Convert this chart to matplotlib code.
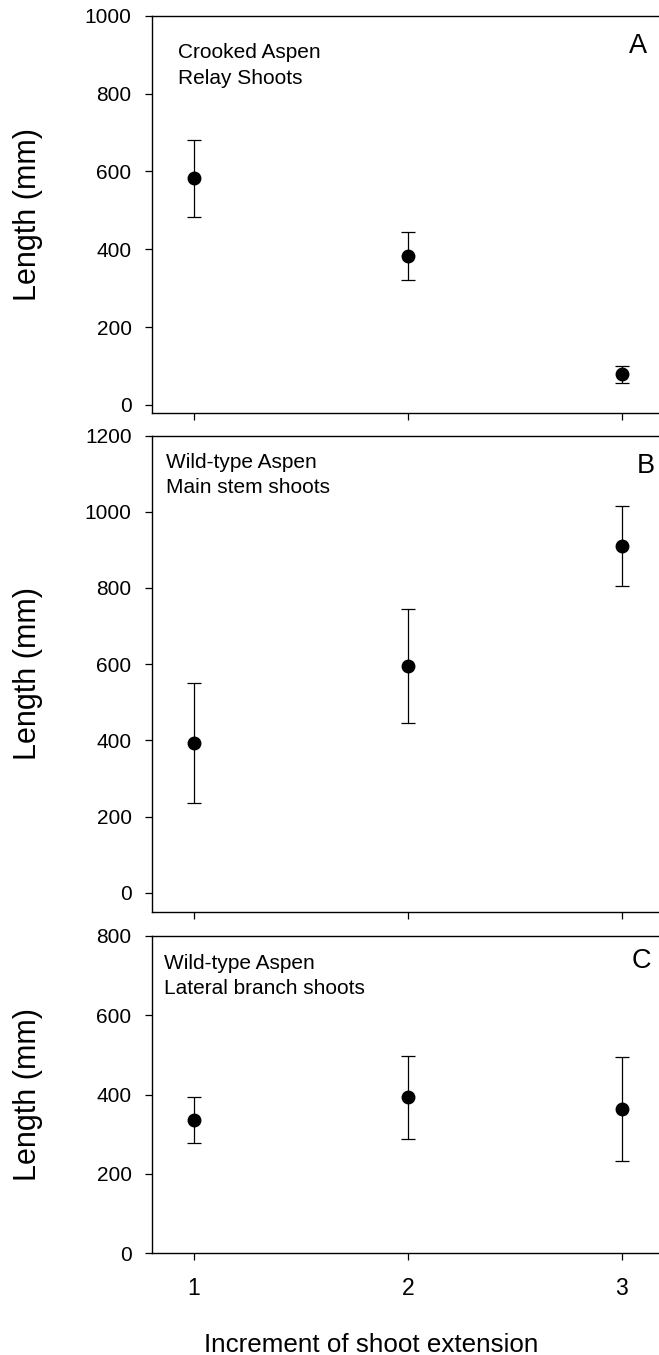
import matplotlib
matplotlib.use("Agg")
import matplotlib.pyplot as plt

plt.rcParams['font.family'] = ['Liberation Sans', 'DejaVu Sans']

W, H = 659, 1355

increments = [1, 2, 3]
xtick_labels = ["1", "2", "3"]

# panel A: crooked aspen relay shoots
relay_mean = [582, 382, 79]
relay_err = [98, 61, 22]
# panel B: wild-type main stem shoots
main_mean = [394, 595, 909]
main_err = [158, 150, 105]
# panel C: wild-type lateral branch shoots
lateral_mean = [336, 393, 363]
lateral_err = [58, 105, 131]

panels = [
    # (mean, err, ylim, yticks, text lines, letter, layout in px)
    (relay_mean, relay_err, (-20, 1000), [0, 200, 400, 600, 800, 1000],
     ["Crooked Aspen", "Relay Shoots"], "A",
     dict(top=15.7, bottom=412.7, tx=178.3, tb=(58.3, 84.3), lx=629, lb=53.3)),
    (main_mean, main_err, (-50, 1200), [0, 200, 400, 600, 800, 1000, 1200],
     ["Wild-type Aspen", "Main stem shoots"], "B",
     dict(top=435.5, bottom=912.0, tx=166, tb=(468.3, 493.3), lx=636.5, lb=473.3)),
    (lateral_mean, lateral_err, (0, 800), [0, 200, 400, 600, 800],
     ["Wild-type Aspen", "Lateral branch shoots"], "C",
     dict(top=935.7, bottom=1253.3, tx=164.2, tb=(969.3, 994.3), lx=631.5, lb=967.5)),
]

fig = plt.figure(figsize=(W / 100, H / 100), dpi=100)

left_px, right_px = 151.7, 663.8

for mean, err, ylim, yticks, lines, letter, lay in panels:
    ax = fig.add_axes([left_px / W, 1 - lay["bottom"] / H,
                       (right_px - left_px) / W, (lay["bottom"] - lay["top"]) / H])
    ax.errorbar(increments, mean, yerr=err, fmt="o", color="black",
                markersize=9, capsize=5, elinewidth=0.9, capthick=0.9)
    ax.set_xlim(0.803, 3.197)
    ax.set_ylim(*ylim)
    ax.set_yticks(yticks)
    ax.set_xticks(increments)
    ax.spines["right"].set_visible(False)
    for s in ("left", "bottom", "top"):
        ax.spines[s].set_linewidth(1.0)
    ax.tick_params(axis="y", direction="out", length=5, width=0.9, pad=9.5, labelsize=15)
    ax.tick_params(axis="x", direction="out", length=5, width=0.9, pad=12, labelsize=16.5)
    if letter == "C":
        ax.set_xticklabels(xtick_labels)
    else:
        ax.set_xticklabels([])
    ax.set_ylabel("Length (mm)", fontsize=22)
    ax.yaxis.set_label_coords((43 - left_px) / (right_px - left_px), 0.5)

    for line, base in zip(lines, lay["tb"]):
        fig.text(lay["tx"] / W, 1 - base / H, line, fontsize=15,
                 ha="left", va="baseline")
    fig.text(lay["lx"] / W, 1 - lay["lb"] / H, letter, fontsize=19.5,
             ha="left", va="baseline")

fig.text(371 / W, 1 - 1351.7 / H, "Increment of shoot extension",
         fontsize=18.7, ha="center", va="baseline")

fig.savefig("out.png", dpi=100)
